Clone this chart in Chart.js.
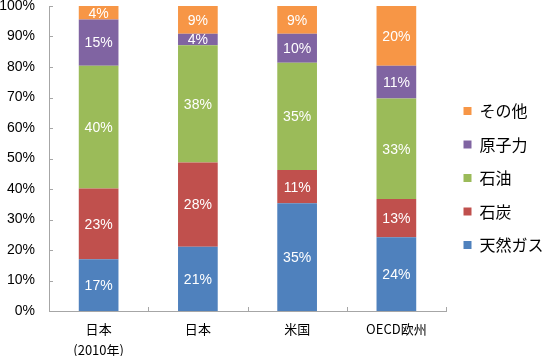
<!DOCTYPE html>
<html><head><meta charset="utf-8">
<script src="https://cdn.jsdelivr.net/npm/chart.js@4/dist/chart.umd.min.js"></script>
<style>html,body{margin:0;padding:0;background:#fff}#wrap{width:549px;height:356px}</style>
</head><body><div id="wrap"><canvas id="c" width="549" height="356"></canvas></div>
<script>
// ---- data ----
const categories = [['日本', '(2010年)'], '日本', '米国', 'OECD欧州'];
const seriesNames = ['天然ガス', '石炭', '石油', '原子力', 'その他'];
const gas     = [17.0, 21.1, 35.3, 24.2];
const coal    = [23.2, 27.6, 10.9, 12.5];
const oil     = [40.2, 38.4, 35.2, 33.0];
const nuclear = [15.2,  3.8,  9.5, 10.7];
const other   = [ 4.4,  9.1,  9.1, 19.6];
const yMin = 0, yMax = 100, yStep = 10;

const seriesValues = [gas, coal, oil, nuclear, other];
const colors = ['#4F81BD', '#C0504D', '#9BBB59', '#8064A2', '#F79646'];
const axisColor = '#a6a6a6';

const legendWidth = {
  id: 'legendWidth',
  afterInit(chart) {
    const lg = chart.legend;
    const f = lg.fit.bind(lg);
    lg.fit = function () { f(); this.width = 103; };
  }
};

const innerTicks = {
  id: 'innerTicks',
  afterDraw(chart) {
    const ctx = chart.ctx, x = chart.scales.x, y = chart.scales.y;
    ctx.save();
    ctx.strokeStyle = axisColor;
    ctx.lineWidth = 1;
    ctx.beginPath();
    y.ticks.forEach(t => {
      const py = Math.round(y.getPixelForValue(t.value)) + 0.5;
      ctx.moveTo(y.right, py); ctx.lineTo(y.right + 4, py);
    });
    const n = categories.length;
    for (let i = 0; i <= n; i++) {
      const px = Math.round(x.left + i * (x.width / n)) + 0.5;
      ctx.moveTo(px, x.top); ctx.lineTo(px, x.top - 4);
    }
    ctx.stroke();
    ctx.restore();
  }
};

const dataLabels = {
  id: 'dataLabels',
  afterDatasetsDraw(chart) {
    const ctx = chart.ctx;
    ctx.save();
    ctx.fillStyle = '#ffffff';
    ctx.font = '14px "Liberation Sans", Arial, sans-serif';
    ctx.textAlign = 'center';
    ctx.textBaseline = 'middle';
    chart.data.datasets.forEach((ds, di) => {
      const meta = chart.getDatasetMeta(di);
      meta.data.forEach((el, i) => {
        const p = el.getProps(['x', 'y', 'base'], true);
        ctx.fillText(Math.round(ds.data[i]) + '%', p.x, (p.y + p.base) / 2 + 1);
      });
    });
    ctx.restore();
  }
};

new Chart(document.getElementById('c'), {
  type: 'bar',
  data: {
    labels: categories,
    datasets: seriesNames.map((name, i) => ({
      label: name,
      data: seriesValues[i],
      backgroundColor: colors[i],
      borderWidth: 0,
      categoryPercentage: 1,
      barPercentage: 0.4
    }))
  },
  options: {
    responsive: false,
    animation: false,
    devicePixelRatio: 1,
    layout: { padding: 0 },
    plugins: {
      legend: {
        position: 'right',
        reverse: true,
        labels: {
          boxWidth: 8, boxHeight: 8, padding: 17.5,
          color: '#000',
          font: { family: '"Noto Sans CJK JP", sans-serif', size: 16 }
        }
      },
      tooltip: { enabled: false }
    },
    scales: {
      x: {
        stacked: true,
        grid: { display: false, drawTicks: false },
        border: { display: true, color: axisColor, width: 1 },
        ticks: {
          color: '#000', padding: 7.5, maxRotation: 0,
          font: { family: '"Noto Sans CJK JP", sans-serif', size: 13, lineHeight: 1.615 }
        },
        afterFit(s) { s.height = 45; }
      },
      y: {
        stacked: true,
        min: yMin, max: yMax,
        grid: { display: false, drawTicks: false },
        border: { display: true, color: axisColor, width: 1 },
        ticks: {
          stepSize: yStep, color: '#000', padding: 14,
          font: { family: '"Liberation Sans", Arial, sans-serif', size: 14, lineHeight: 1 },
          callback: v => v + '%'
        },
        afterFit(s) { s.width = 49; s.paddingTop = 6; s.paddingBottom = 0; }
      }
    }
  },
  plugins: [legendWidth, innerTicks, dataLabels]
});
</script>
</body></html>
